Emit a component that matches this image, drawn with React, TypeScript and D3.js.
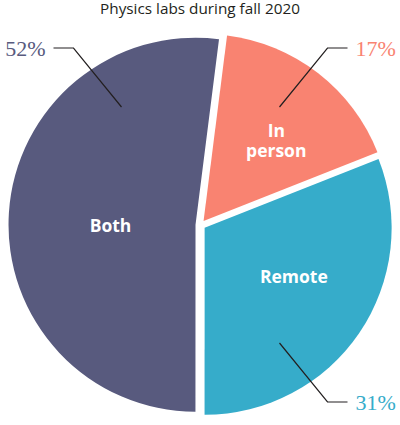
import React from 'react';
import * as d3 from 'd3';

// chart data
const categories = ['In person', 'Remote', 'Both'];
const shares = [17, 31, 52];
const sliceLabels = [['In', 'person'], ['Remote'], ['Both']];
const percentLabels = ['17%', '31%', '52%'];
const colors = ['#f98371', '#36acca', '#585a7e'];
const title = 'Physics labs during fall 2020';

// layout
const width = 400;
const height = 425;
const cx = 200.5;
const cy = 225;
const radius = 187;
const explode = 5;
const startAngle = 0.126; // remote slice ends pointing straight down
const deg = Math.PI / 180;
// label placement: radius and angle shift from slice middle
const labelRadius = [108, 102, 85];
const labelShift = [4.5, -5.2, -4.5];
// which side each callout goes to: [x sign, y sign]
const calloutSide = [[1, -1], [1, 1], [-1, -1]];
const pointer = { x: 79, y: 118 };
const elbow = { x: 127, y: 177 };
const tailX = 147;
const textX = 155;

const sansFont = '"Open Sans", sans-serif';
const serifFont = '"Liberation Serif", serif';

export default function App() {
  const data = categories.map((c, i) => ({ category: c, value: shares[i], i }));

  const pie = d3.pie<any>()
    .sort(null)
    .value((d: any) => d.value)
    .startAngle(startAngle)
    .endAngle(startAngle + 2 * Math.PI);

  const arc = d3.arc<any>()
    .innerRadius(0)
    .outerRadius(radius);

  const arcs = pie(data);

  const line = d3.line();

  return (
    <svg width={width} height={height} style={{ position: 'absolute', left: 0, top: 0 }}>
      <text x={width / 2} y={14} textAnchor="middle" fontFamily={sansFont}
        fontSize={15.3} fill="#231f20">{title}</text>

      <g transform={`translate(${cx},${cy})`}>
        {arcs.map((a, i) => {
          const mid = (a.startAngle + a.endAngle) / 2;
          const ox = Math.sin(mid) * explode;
          const oy = -Math.cos(mid) * explode;
          const la = mid + labelShift[i] * deg;
          const lr = labelRadius[i];
          const lx = Math.sin(la) * lr;
          const ly = -Math.cos(la) * lr;
          const lines = sliceLabels[i];
          return (
            <g key={a.data.category} transform={`translate(${ox},${oy})`}>
              <path d={arc(a) as string} fill={colors[i]} />
              <text x={lx} y={ly - (lines.length - 1) * 10 + 6} textAnchor="middle"
                fontFamily={sansFont} fontWeight={700} fontSize={17.5} fill="#fff">
                {lines.map((t, k) => (
                  <tspan key={t} x={lx} dy={k === 0 ? 0 : 20}>{t}</tspan>
                ))}
              </text>
            </g>
          );
        })}

        {arcs.map((a, i) => {
          const [sx, sy] = calloutSide[i];
          const pts: [number, number][] = [
            [sx * pointer.x, sy * pointer.y],
            [sx * elbow.x, sy * elbow.y],
            [sx * tailX, sy * elbow.y],
          ];
          return (
            <g key={'callout-' + a.data.category}>
              <path d={line(pts) as string} fill="none" stroke="#231f20" strokeWidth={1.2} />
              <text x={sx * textX} y={sy * elbow.y + 8}
                textAnchor={sx > 0 ? 'start' : 'end'}
                fontFamily={serifFont} fontSize={22} fill={colors[i]}>
                {percentLabels[i]}
              </text>
            </g>
          );
        })}
      </g>
    </svg>
  );
}
